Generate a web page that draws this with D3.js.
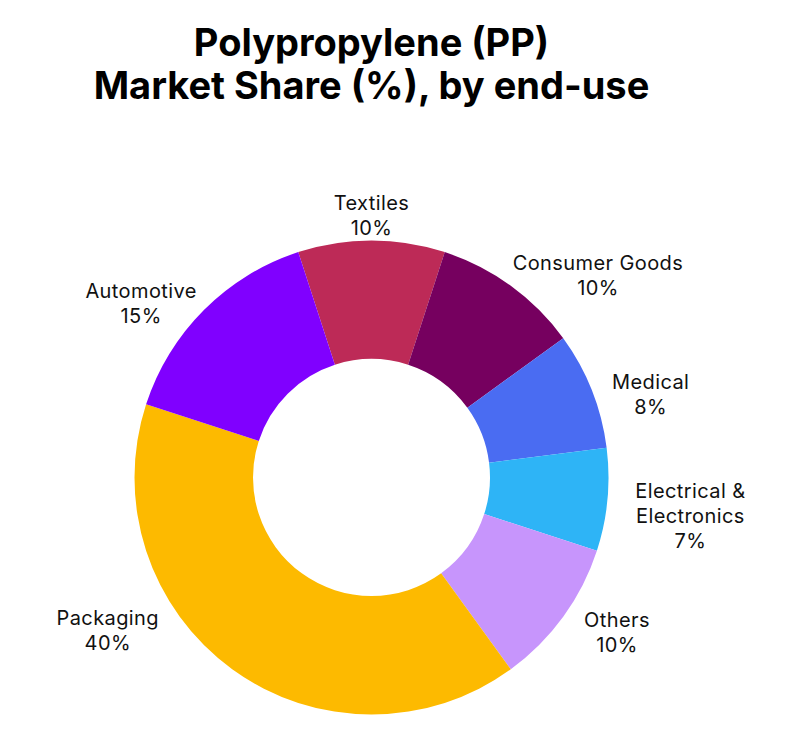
<!DOCTYPE html>
<html>
<head>
<meta charset="utf-8">
<script src="https://cdn.jsdelivr.net/npm/d3@7"></script>
<style>
  body { margin: 0; background: #fff; }
  text { font-family: Inter, "Noto Sans", sans-serif; }
</style>
</head>
<body>
<div id="chart"></div>
<script>
// chart data
const categories = ["Textiles", "Consumer Goods", "Medical", "Electrical & Electronics", "Others", "Packaging", "Automotive"];
const shares = [10, 10, 8, 7, 10, 40, 15];
const labelLines = [["Textiles"], ["Consumer Goods"], ["Medical"], ["Electrical &", "Electronics"], ["Others"], ["Packaging"], ["Automotive"]];
const colors = ["#bd2a57", "#76005f", "#4a6cf2", "#2eb4f6", "#c795fc", "#fdba00", "#8000ff"];
const titleLines = ["Polypropylene (PP)", "Market Share (%), by end-use"];

const width = 797, height = 750;
const cx = 371.5, cy = 477.5;
const outerR = 237, innerR = 118.5, labelR = 262;

const svg = d3.select("#chart").append("svg")
    .attr("width", width)
    .attr("height", height);

// title
svg.append("g").selectAll("text")
    .data(titleLines)
  .enter().append("text")
    .attr("x", cx)
    .attr("y", (d, i) => 56 + i * 43)
    .attr("text-anchor", "middle")
    .style("font-size", "38px")
    .style("font-weight", 700)
    .style("fill", "#000")
    .text(d => d);

const color = d3.scaleOrdinal().domain(categories).range(colors);

// pie starts so that the first slice is centred on top
const pie = d3.pie()
    .value(d => d.value)
    .sort(null)
    .startAngle(-Math.PI * shares[0] / 100)
    .endAngle(2 * Math.PI - Math.PI * shares[0] / 100);

const data = categories.map((c, i) => ({ name: c, value: shares[i], lines: labelLines[i] }));
const arcs = pie(data);

const arc = d3.arc().innerRadius(innerR).outerRadius(outerR);

const g = svg.append("g")
    .attr("transform", "translate(" + cx + "," + cy + ")");

g.selectAll("path")
    .data(arcs)
  .enter().append("path")
    .attr("d", arc)
    .attr("fill", d => color(d.data.name));

// labels: anchored just outside the ring, pushed sideways by their width
const lineH = 25;
const maxY = 143;
arcs.forEach(d => {
  let a = (d.startAngle + d.endAngle) / 2;
  let px = labelR * Math.sin(a), py = -labelR * Math.cos(a);
  if (py > maxY) {
    py = maxY;
    px = Math.sign(px) * Math.sqrt(labelR * labelR - py * py);
  }
  const s = Math.sin(a);
  const side = Math.abs(s) < 0.2 ? 0 : Math.sign(s);
  const lines = d.data.lines.concat([d.data.value + "%"]);

  const lg = g.append("g");
  const t = lg.append("text")
      .attr("text-anchor", "middle")
      .style("font-size", "20px")
      .style("letter-spacing", "0.4px")
      .style("fill", "#111");
  lines.forEach((l, i) => {
    t.append("tspan").attr("x", 0).attr("y", i * lineH).text(l);
  });
  const bb = t.node().getBBox();
  // diagonal labels sit a bit closer to the ring
  const outward = 5 - 22 * Math.abs(py) / labelR;
  const bx = px + side * (bb.width / 2 + outward);
  const blockMid = bb.y + bb.height / 2;
  const by = py + (side === 0 ? 0 : 10 * Math.abs(s) + 4) - blockMid;
  lg.attr("transform", "translate(" + bx + "," + by + ")");
});
</script>
</body>
</html>
